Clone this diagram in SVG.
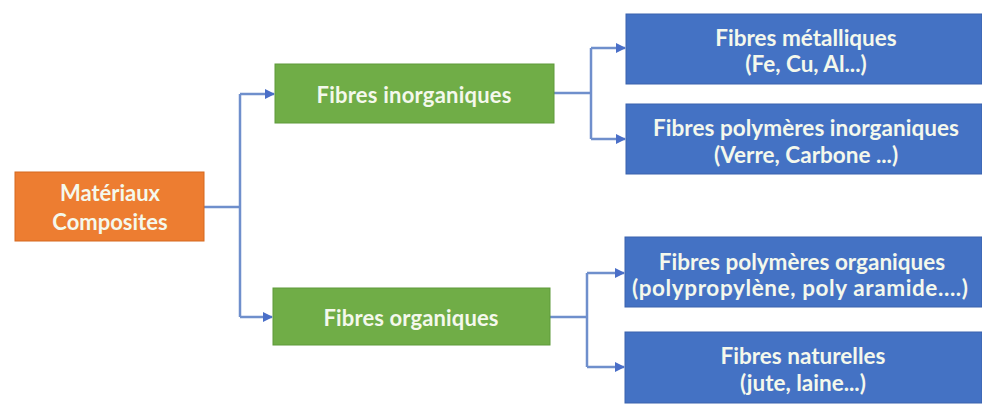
<svg xmlns="http://www.w3.org/2000/svg" width="982" height="405" viewBox="0 0 982 405">
  <style>
    .lbl { font-family: Lato, "Open Sans", "Liberation Sans", sans-serif; font-weight: bold; fill: #f4f8ec; text-anchor: middle; dominant-baseline: central; }
    .big { font-size: 22px; }
    .mid { font-size: 22.5px; }
    .orange { fill: #ed7d31; stroke: #d5691f; stroke-width: 1; }
    .green { fill: #70ad47; stroke: #5e9a3a; stroke-width: 1; }
    .blue { fill: #4472c4; stroke: #3a62ad; stroke-width: 1; }
    .link { fill: none; stroke: #6f8fcc; stroke-width: 2.5; }
  </style>
  <defs>
    <marker id="arrow" viewBox="0 0 10 10" refX="9" refY="5" markerWidth="4" markerHeight="4" orient="auto">
      <path d="M0,0 L10,5 L0,10 z" fill="#4a6fc8"/>
    </marker>
  </defs>
  <rect width="982" height="405" fill="#ffffff"/>

  <g id="connectors">
    <path class="link" d="M204,207 H240"/>
    <path class="link" d="M240,94 V317"/>
    <path class="link" d="M240,94 H274" marker-end="url(#arrow)"/>
    <path class="link" d="M240,317 H272" marker-end="url(#arrow)"/>
    <path class="link" d="M554,93 H591"/>
    <path class="link" d="M591,48 V139"/>
    <path class="link" d="M591,48 H625" marker-end="url(#arrow)"/>
    <path class="link" d="M591,139 H625" marker-end="url(#arrow)"/>
    <path class="link" d="M550,317 H587"/>
    <path class="link" d="M587,273 V367"/>
    <path class="link" d="M587,273 H624" marker-end="url(#arrow)"/>
    <path class="link" d="M587,367 H624" marker-end="url(#arrow)"/>
  </g>

  <g id="materiaux-composites">
    <rect class="orange" x="15" y="172" width="189" height="69"/>
    <text class="lbl big" x="110" y="192">Matériaux</text>
    <text class="lbl big" x="110" y="221">Composites</text>
  </g>

  <g id="fibres-inorganiques">
    <rect class="green" x="275" y="64" width="279" height="59"/>
    <text class="lbl big" x="414" y="94" textLength="195">Fibres inorganiques</text>
  </g>

  <g id="fibres-organiques">
    <rect class="green" x="273" y="288" width="277" height="57"/>
    <text class="lbl big" x="411" y="317" textLength="175">Fibres organiques</text>
  </g>

  <g id="fibres-metalliques">
    <rect class="blue" x="626" y="14" width="356" height="70"/>
    <text class="lbl mid" x="806" y="37">Fibres métalliques</text>
    <text class="lbl mid" x="806" y="63">(Fe, Cu, Al...)</text>
  </g>

  <g id="fibres-polymeres-inorganiques">
    <rect class="blue" x="626" y="104" width="356" height="70"/>
    <text class="lbl mid" x="806" y="127" textLength="306">Fibres polymères inorganiques</text>
    <text class="lbl mid" x="806" y="154">(Verre, Carbone ...)</text>
  </g>

  <g id="fibres-polymeres-organiques">
    <rect class="blue" x="625" y="237" width="357" height="70"/>
    <text class="lbl mid" x="802" y="261">Fibres polymères organiques</text>
    <text class="lbl mid" x="800" y="287" textLength="336">(polypropylène, poly aramide....)</text>
  </g>

  <g id="fibres-naturelles">
    <rect class="blue" x="625" y="332" width="357" height="71"/>
    <text class="lbl mid" x="803" y="355">Fibres naturelles</text>
    <text class="lbl mid" x="803" y="382">(jute, laine...)</text>
  </g>
</svg>
